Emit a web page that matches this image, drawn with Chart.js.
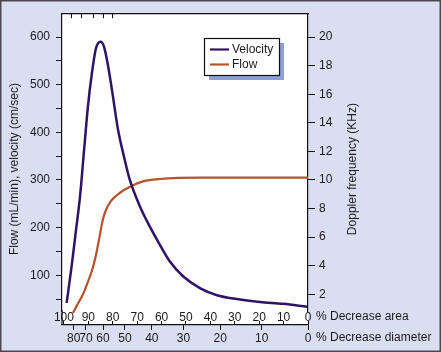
<!DOCTYPE html>
<html>
<head>
<meta charset="utf-8">
<script src="https://cdn.jsdelivr.net/npm/chart.js@4.4.0/dist/chart.umd.min.js"></script>
<style>
  html, body { margin: 0; padding: 0; background: #dadef2; }
</style>
</head>
<body>
<canvas id="myChart" width="441" height="352"></canvas>
<script>
// Datos (eje x = % de disminucion del area)
const velArea = [98.9, 96.9, 95.1, 93.4, 91.8, 90.2, 88.5, 86.9, 85.0, 83.6, 82.0, 80.3, 77.9, 75.4, 73.0, 68.9, 64.8, 60.7, 56.6, 51.2, 44.3, 37.3, 29.1, 19.7, 10.2, 0.4];
const velocity = [42, 117, 193, 266, 360, 453, 526, 576, 590, 580, 542, 488, 407, 349, 300, 245, 202, 164, 129, 98, 73, 58, 50, 44, 40, 34];

const flowArea = [96.3, 94.3, 92.2, 90.2, 88.5, 87.3, 86.5, 85.7, 84.8, 84.0, 82.8, 80.7, 78.3, 75.4, 72.5, 67.6, 60.7, 44.3, 23.8, 0];
const flow = [21, 40, 60, 86, 110, 133, 152, 173, 198, 218, 237, 256, 268, 279, 287, 297, 302, 305, 305, 305];

// Etiquetas de los ejes
const areaTicks = [100, 90, 80, 70, 60, 50, 40, 30, 20, 10, 0];
const diameterTicks = [80, 70, 60, 50, 40, 30, 20, 10, 0];
const topTicks = [96.8, 92.7, 88, 83.9, 80.2];
const leftTicks = [50, 100, 150, 200, 250, 300, 350, 400, 450, 500, 550, 600];
const rightTicks = [2, 4, 6, 8, 10, 12, 14, 16, 18, 20];

const FONT = "'Liberation Sans', Arial, Helvetica, sans-serif";
const INK = "#1b1b1b";
const LINE = "#111111";
const VEL_COLOR = "#2d1466";
const FLOW_COLOR = "#b4532d";

Chart.defaults.font.family = FONT;
Chart.defaults.font.size = 12;
Chart.defaults.color = INK;

// Fondo lila, marco, area blanca, titulos y leyenda
const fondo = {
  id: "fondo",
  beforeDraw(chart) {
    const { ctx, chartArea: a } = chart;
    const base = chart.scales.x2.top;
    ctx.save();
    ctx.fillStyle = "#dadef2";
    ctx.fillRect(0, 0, chart.width, chart.height);
    ctx.strokeStyle = "#4a4a4a";
    ctx.lineWidth = 1.5;
    ctx.strokeRect(0.75, 0.75, chart.width - 1.5, chart.height - 1.5);
    ctx.fillStyle = "#ffffff";
    ctx.fillRect(a.left, a.top, a.right - a.left, base - a.top);
    ctx.restore();
  },
  afterDraw(chart) {
    const { ctx, chartArea: a } = chart;
    const base = chart.scales.x2.top;
    ctx.save();
    // borde izquierdo hasta el eje inferior
    ctx.strokeStyle = LINE;
    ctx.lineWidth = 1.2;
    ctx.beginPath();
    ctx.moveTo(a.left, a.bottom - 1);
    ctx.lineTo(a.left, base);
    ctx.stroke();

    ctx.font = "12px " + FONT;
    ctx.fillStyle = INK;
    ctx.textBaseline = "middle";
    ctx.textAlign = "left";
    ctx.fillText("% Decrease area", a.right + 8, 317);
    ctx.fillText("% Decrease diameter", a.right + 8, 338);

    // titulos verticales, leidos de abajo hacia arriba
    const midY = (a.top + base) / 2;
    [["Flow (mL/min), velocity (cm/sec)", 15], ["Doppler frequency (KHz)", 353]].forEach(([txt, x]) => {
      ctx.save();
      ctx.translate(x, midY);
      ctx.rotate(-Math.PI / 2);
      ctx.textAlign = "center";
      ctx.fillText(txt, 0, 0);
      ctx.restore();
    });

    // leyenda con sombra
    const lx = 204, ly = 38, lw = 75, lh = 37;
    ctx.fillStyle = "#8d9fd5";
    ctx.fillRect(lx + 5, ly + 5, lw, lh);
    ctx.fillStyle = "#ffffff";
    ctx.fillRect(lx, ly, lw, lh);
    ctx.strokeStyle = LINE;
    ctx.lineWidth = 1.2;
    ctx.strokeRect(lx + 0.5, ly + 0.5, lw, lh);
    chart.data.datasets.forEach((ds, i) => {
      const y = ly + 11.5 + i * 15;
      ctx.strokeStyle = ds.borderColor;
      ctx.lineWidth = 2.2;
      ctx.beginPath();
      ctx.moveTo(lx + 6, y);
      ctx.lineTo(lx + 25, y);
      ctx.stroke();
      ctx.fillStyle = INK;
      ctx.fillText(ds.label, lx + 28, y);
    });
    ctx.restore();
  }
};

const toPoints = (xs, ys) => xs.map((x, i) => ({ x: x, y: ys[i] }));
const setTicks = (list) => (s) => { s.ticks = list.map((v) => ({ value: v })); };

const ctx = document.getElementById("myChart").getContext("2d");
const myChart = new Chart(ctx, {
  type: "line",
  data: {
    datasets: [
      {
        label: "Velocity",
        data: toPoints(velArea, velocity),
        borderColor: VEL_COLOR,
        borderWidth: 2.5,
        pointRadius: 0,
        cubicInterpolationMode: "monotone",
        clip: false,
        xAxisID: "x",
        yAxisID: "y",
      },
      {
        label: "Flow",
        data: toPoints(flowArea, flow),
        borderColor: FLOW_COLOR,
        borderWidth: 2.2,
        pointRadius: 0,
        cubicInterpolationMode: "monotone",
        clip: false,
        xAxisID: "x",
        yAxisID: "y",
      },
    ],
  },
  options: {
    responsive: false,
    animation: false,
    layout: { padding: { left: 3, right: 0, top: 10, bottom: 7 } },
    plugins: { legend: { display: false }, tooltip: { enabled: false } },
    scales: {
      // etiquetas de % area, justo debajo del area de datos
      x: {
        type: "linear",
        position: "bottom",
        reverse: true,
        min: 0,
        max: 100.8,
        weight: 0,
        afterFit: (s) => { s.height = 14; },
        afterBuildTicks: setTicks(areaTicks),
        grid: { drawOnChartArea: false, drawTicks: false },
        border: { display: false },
        ticks: { padding: -1, maxRotation: 0, autoSkip: false, color: INK },
      },
      // marcas de % area hacia arriba
      xMarks: {
        type: "linear",
        position: "bottom",
        reverse: true,
        min: 0,
        max: 100.8,
        weight: 1,
        afterFit: (s) => { s.height = 0; },
        afterBuildTicks: setTicks(areaTicks),
        grid: { drawOnChartArea: false, tickLength: -4, color: LINE },
        border: { display: false },
        ticks: { display: false },
      },
      // % diametro
      x2: {
        type: "linear",
        position: "bottom",
        reverse: true,
        min: 0,
        max: 100.8,
        weight: 2,
        afterFit: (s) => { s.height = 20; },
        afterBuildTicks: (s) => {
          s.ticks = diameterTicks.map((d) => ({ value: 100 * (1 - Math.pow(1 - d / 100, 2)) }));
        },
        grid: { drawOnChartArea: false, tickLength: 5, color: LINE },
        border: { display: true, color: LINE, width: 1.2 },
        ticks: {
          padding: 1.5,
          maxRotation: 0,
          autoSkip: false,
          color: INK,
          callback: (value, index) => diameterTicks[index],
        },
      },
      xTop: {
        type: "linear",
        position: "top",
        reverse: true,
        min: 0,
        max: 100.8,
        afterFit: (s) => { s.height = 0; },
        afterBuildTicks: setTicks(topTicks),
        grid: { drawOnChartArea: false, tickLength: -5, color: LINE },
        border: { display: true, color: LINE, width: 1.2 },
        ticks: { display: false },
      },
      y: {
        position: "left",
        min: 25,
        max: 650,
        afterFit: (s) => { s.width = 59; },
        afterBuildTicks: setTicks(leftTicks),
        grid: { drawOnChartArea: false, tickLength: 6, color: LINE },
        border: { display: true, color: LINE, width: 1.2 },
        ticks: {
          padding: 6,
          color: INK,
          callback: (v) => (v % 100 === 0 ? v : ""),
        },
      },
      y2: {
        position: "right",
        min: 25 / 30,
        max: 650 / 30,
        afterFit: (s) => { s.width = 133; },
        afterBuildTicks: setTicks(rightTicks),
        grid: { drawOnChartArea: false, tickLength: 7, color: LINE },
        border: { display: true, color: LINE, width: 1.2 },
        ticks: { padding: 4, color: INK },
      },
    },
  },
  plugins: [fondo],
});
</script>
</body>
</html>
